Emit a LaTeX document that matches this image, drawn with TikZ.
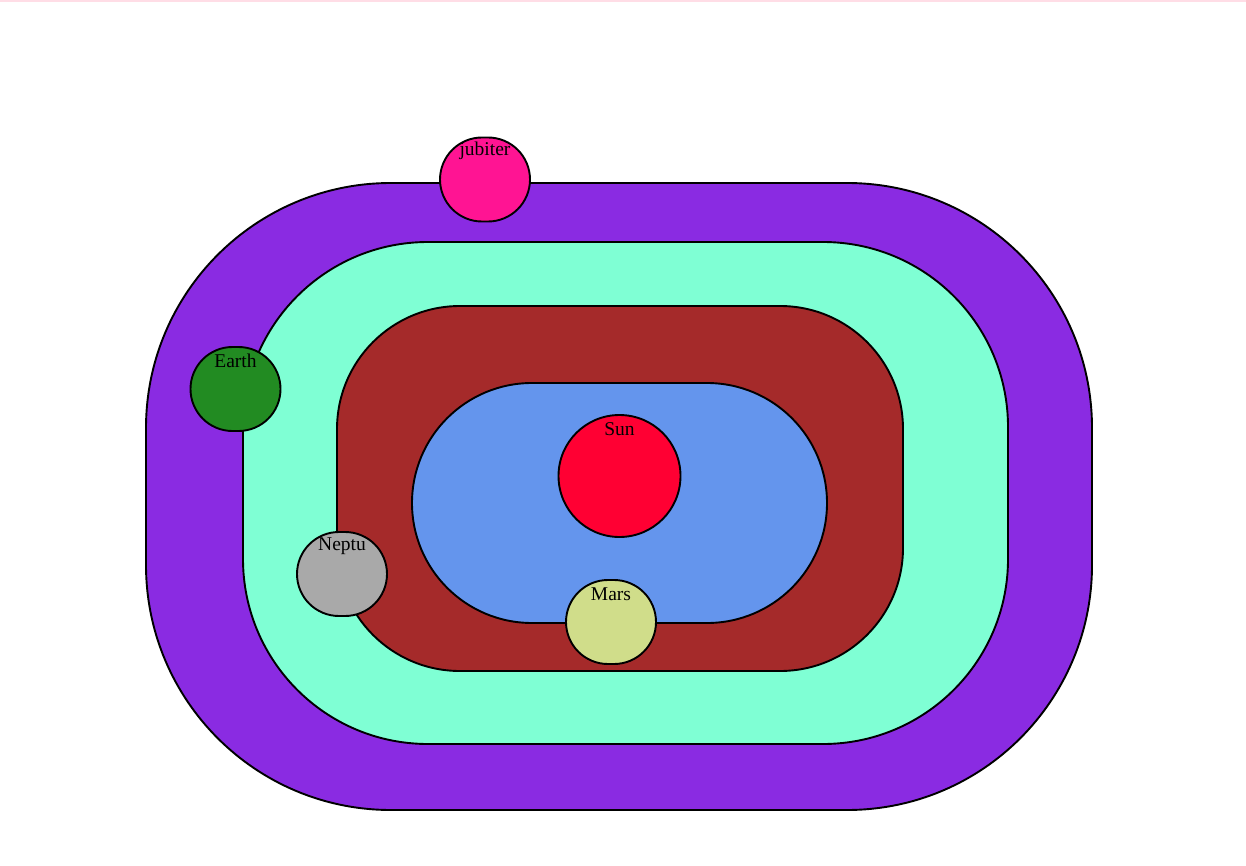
\documentclass[tikz,border=0pt]{standalone}
\usepackage{fontspec}
\setmainfont{Liberation Serif}
\definecolor{cPurple}{HTML}{8A2BE2}
\definecolor{cAqua}{HTML}{7FFFD4}
\definecolor{cBrown}{HTML}{A52A2A}
\definecolor{cBlue}{HTML}{6495ED}
\definecolor{cSun}{HTML}{FF0033}
\definecolor{cJub}{HTML}{FF1493}
\definecolor{cEarth}{HTML}{228B22}
\definecolor{cNep}{HTML}{A9A9A9}
\definecolor{cMars}{HTML}{D0DD8A}
\definecolor{cTop}{HTML}{FFDDE6}
\begin{document}
\begin{tikzpicture}[x=1pt,y=-1pt,
  orbit/.style={draw=black,line width=1.9pt,rectangle,inner sep=0pt},
  planet/.style={draw=black,line width=1.9pt,rectangle,inner sep=0pt,
     minimum width=90pt,minimum height=84pt,rounded corners=42pt},
  lbl/.style={font=\fontsize{19.5}{19.5}\selectfont,inner sep=0pt,anchor=center}]
\useasboundingbox (0,0) rectangle (1246,866);
\fill[cTop] (0,0) rectangle (1246,2);
\node[orbit,fill=cPurple,minimum width=946pt,minimum height=627pt,rounded corners=245pt] (o1) at (619,496.5) {};
\node[orbit,fill=cAqua,minimum width=765pt,minimum height=502pt,rounded corners=185pt] (o2) at (625.5,493) {};
\node[orbit,fill=cBrown,minimum width=566pt,minimum height=365pt,rounded corners=123pt] (o3) at (620,488.5) {};
\node[orbit,fill=cBlue,minimum width=415pt,minimum height=240pt,rounded corners=120pt] (o4) at (619.5,503) {};
\node[draw=black,line width=1.9pt,circle,fill=cSun,minimum size=122pt,inner sep=0pt] (sun) at (619.5,476) {};
\node[lbl] (sunl) at ([yshift=-15pt]sun.north) {Sun};
\node[planet,fill=cJub] (jub) at (485,179.5) {};
\node[lbl] (jubl) at ([yshift=-14.5pt]jub.north) {jubiter};
\node[planet,fill=cEarth] (earth) at (235.5,389) {};
\node[lbl] (earthl) at ([yshift=-15pt]earth.north) {Earth};
\node[planet,fill=cNep] (nep) at (342,574) {};
\node[lbl] (nepl) at ([yshift=-15pt]nep.north) {Neptu};
\node[planet,fill=cMars] (mars) at (611,622) {};
\node[lbl] (marsl) at ([yshift=-15pt]mars.north) {Mars};
\end{tikzpicture}
\end{document}
